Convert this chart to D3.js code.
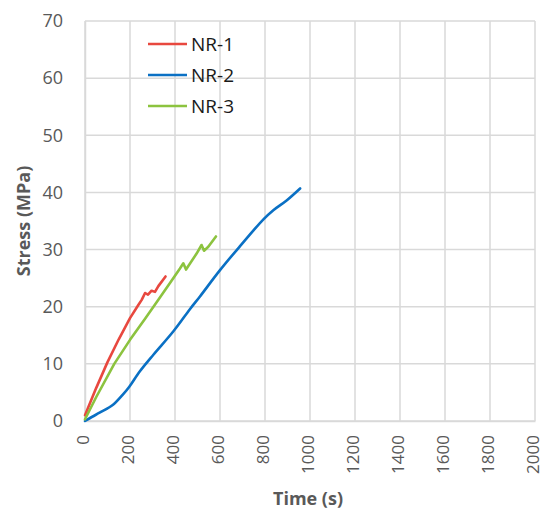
<!DOCTYPE html>
<html>
<head>
<meta charset="utf-8">
<script src="https://cdn.jsdelivr.net/npm/d3@7"></script>
<style>
  html, body { margin: 0; padding: 0; background: #fff; }
  svg { display: block; }
  text { font-family: "Open Sans", "Liberation Sans", sans-serif; }
</style>
</head>
<body>
<svg id="chart" width="544" height="511"></svg>
<script>
// ---- data ----
const seriesNames = ["NR-1", "NR-2", "NR-3"];
const seriesColors = ["#e8483f", "#0a70c4", "#8cc33f"];

const nr1Time   = [0, 50, 100, 150, 200, 237, 252, 267, 280, 296, 311, 326, 358];
const nr1Stress = [1.0, 5.8, 10.3, 14.3, 18.0, 20.3, 21.2, 22.4, 22.1, 22.8, 22.6, 23.6, 25.3];

const nr2Time   = [0, 30, 67, 126, 170, 197, 244, 304, 393, 467, 511, 600, 689, 793, 837, 896, 956];
const nr2Stress = [0, 0.7, 1.5, 2.9, 4.7, 6.0, 8.7, 11.6, 15.7, 19.6, 21.8, 26.4, 30.6, 35.3, 36.9, 38.6, 40.7];

const nr3Time   = [0, 50, 130, 200, 267, 326, 380, 422, 437, 449, 496, 518, 529, 548, 582];
const nr3Stress = [0.3, 4.2, 10.0, 14.2, 17.9, 21.2, 24.3, 26.7, 27.6, 26.5, 29.3, 30.8, 29.8, 30.5, 32.3];

const xTicks = [0, 200, 400, 600, 800, 1000, 1200, 1400, 1600, 1800, 2000];
const yTicks = [0, 10, 20, 30, 40, 50, 60, 70];
const xTitle = "Time (s)";
const yTitle = "Stress (MPa)";

// ---- layout ----
const svg = d3.select("#chart");
const L = 85, R = 535, T = 21, B = 421;
const x = d3.scaleLinear().domain([0, 2000]).range([L, R]);
const y = d3.scaleLinear().domain([0, 70]).range([B, T]);

const grid = "#d9d9d9";
// gridlines
svg.append("g").selectAll("line").data(yTicks).join("line")
  .attr("x1", L).attr("x2", R)
  .attr("y1", d => y(d)).attr("y2", d => y(d))
  .attr("stroke", grid).attr("stroke-width", 1.5);
svg.append("g").selectAll("line").data(xTicks).join("line")
  .attr("y1", T).attr("y2", B)
  .attr("x1", d => x(d)).attr("x2", d => x(d))
  .attr("stroke", grid).attr("stroke-width", 1.5);

// axes (labels via d3 axes)
const yAxis = svg.append("g").attr("transform", `translate(${L},0)`)
  .call(d3.axisLeft(y).tickValues(yTicks).tickSize(0).tickPadding(22));
yAxis.select(".domain").attr("stroke", grid).attr("stroke-width", 1.5);
yAxis.selectAll("text").attr("font-size", 18).attr("fill", "#595959")
  .attr("font-family", "'Open Sans', sans-serif");

const xAxis = svg.append("g").attr("transform", `translate(0,${B})`)
  .call(d3.axisBottom(x).tickValues(xTicks).tickSize(0).tickFormat(d3.format("d")));
xAxis.select(".domain").attr("stroke", grid).attr("stroke-width", 1.5);
xAxis.selectAll("text")
  .attr("font-size", 17).attr("fill", "#595959")
  .attr("font-family", "'Open Sans', sans-serif")
  .attr("text-anchor", "end")
  .attr("dy", "0.22em")
  .attr("transform", "translate(0,14) rotate(-90)")
  .attr("x", 0).attr("y", 0);

// titles
svg.append("text").attr("x", 308).attr("y", 505)
  .attr("text-anchor", "middle").attr("font-size", 18).attr("font-weight", "bold")
  .attr("fill", "#595959").text(xTitle);
svg.append("text").attr("transform", `translate(30,${(T + B) / 2}) rotate(-90)`)
  .attr("text-anchor", "middle").attr("font-size", 18).attr("font-weight", "bold")
  .attr("fill", "#595959").text(yTitle);

// lines
const data = [
  nr1Time.map((t, i) => [t, nr1Stress[i]]),
  nr2Time.map((t, i) => [t, nr2Stress[i]]),
  nr3Time.map((t, i) => [t, nr3Stress[i]])
];
const curves = [d3.curveLinear, d3.curveCatmullRom.alpha(0.5), d3.curveLinear];
data.forEach((pts, i) => {
  svg.append("path").datum(pts)
    .attr("fill", "none").attr("stroke", seriesColors[i])
    .attr("stroke-width", 2.6).attr("stroke-linejoin", "round").attr("stroke-linecap", "round")
    .attr("d", d3.line().x(d => x(d[0])).y(d => y(d[1])).curve(curves[i]));
});

// legend
const lg = svg.append("g");
seriesNames.forEach((n, i) => {
  const yy = 44 + i * 31;
  lg.append("line").attr("x1", 148).attr("x2", 187).attr("y1", yy).attr("y2", yy)
    .attr("stroke", seriesColors[i]).attr("stroke-width", 2.6);
  lg.append("text").attr("x", 191).attr("y", yy).attr("dy", "0.35em")
    .attr("font-size", 19).attr("fill", "#1a1a1a").text(n);
});
</script>
</body>
</html>
